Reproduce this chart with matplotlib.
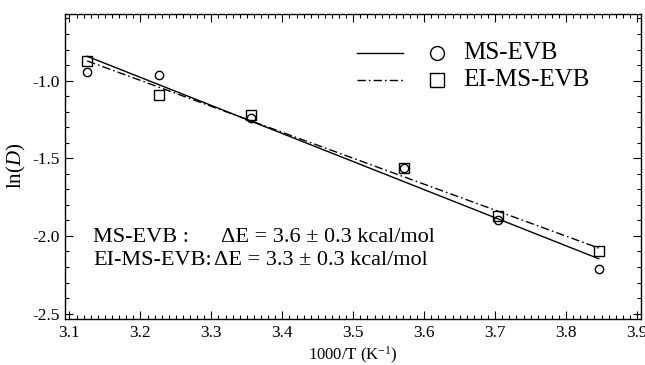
import numpy as np
import matplotlib
matplotlib.use("Agg")
import matplotlib.pyplot as plt
from matplotlib.ticker import MultipleLocator

plt.rcParams["font.family"] = ["Liberation Serif", "DejaVu Serif"]
plt.rcParams["mathtext.fontset"] = "custom"
plt.rcParams["mathtext.rm"] = "Liberation Serif"
plt.rcParams["mathtext.it"] = "Liberation Serif:italic"
plt.rcParams["axes.unicode_minus"] = False

# Inverse temperature, 1000/T (K^-1)
inv_T = [3.125, 3.226, 3.356, 3.571, 3.704, 3.846]
# ln(D) for the two models
ln_D_msevb = [-0.942, -0.965, -1.240, -1.565, -1.896, -2.210]
ln_D_eimsevb = [-0.873, -1.092, -1.220, -1.563, -1.870, -2.095]

series_names = ["MS-EVB", "EI-MS-EVB"]
energy_labels = ["MS-EVB :", "EI-MS-EVB:"]
energy_texts = ["\u0394E = 3.6 \u00b1 0.3 kcal/mol", "\u0394E = 3.3 \u00b1 0.3 kcal/mol"]

x_ticks = [3.1, 3.2, 3.3, 3.4, 3.5, 3.6, 3.7, 3.8, 3.9]
y_ticks = [-2.5, -2.0, -1.5, -1.0]

fig = plt.figure(figsize=(6.45, 3.65), dpi=100)
ax = fig.add_axes([0.1008, 0.126, 0.893, 0.837])

x = np.array(inv_T)
xfit = np.array([x.min(), x.max()])

styles = [dict(ls="-", marker="o", ms=6.0), dict(ls=(0, (6, 2.2, 1.2, 2.2)), marker="s", ms=6.5)]
for yvals, st in zip([ln_D_msevb, ln_D_eimsevb], styles):
    y = np.array(yvals)
    slope, intercept = np.polyfit(x, y, 1)
    ax.plot(xfit, slope * xfit + intercept, color="black", lw=1.0, ls=st["ls"])
    ax.plot(x, y, ls="none", marker=st["marker"], ms=st["ms"],
            mfc="none", mec="black", mew=1.0)

ax.set_xlim(3.0937, 3.9056)
ax.set_ylim(-2.535, -0.568)
ax.set_xticks(x_ticks)
ax.set_xticklabels([f"{v:.1f}" for v in x_ticks])
ax.set_yticks(y_ticks)
ax.set_yticklabels([f"{v:.1f}" for v in y_ticks])
ax.xaxis.set_minor_locator(MultipleLocator(0.01))
ax.yaxis.set_minor_locator(MultipleLocator(0.1))
ax.tick_params(which="both", direction="in", top=True, right=True, width=0.8,
               labelsize=12.5)
ax.tick_params(which="major", length=6, pad=4)
ax.tick_params(which="minor", length=3)
for sp in ax.spines.values():
    sp.set_linewidth(1.0)

ax.set_xlabel("1000/T (K$^{-1}$)", fontsize=12, labelpad=3)
ax.set_ylabel("ln($D$)", fontsize=15, labelpad=3)

# Legend: line sample, marker sample, name
rows_y = [0.871, 0.782]
for yy, name, st in zip(rows_y, series_names, styles):
    ax.plot([0.507, 0.587], [yy, yy], transform=ax.transAxes, color="black",
            lw=1.0, ls=st["ls"])
    ax.plot([0.646], [yy], transform=ax.transAxes, ls="none", marker=st["marker"],
            ms=10, mfc="none", mec="black", mew=1.0)
    ax.text(0.691, yy, name, transform=ax.transAxes, fontsize=18,
            va="center", ha="left")

# Activation energies
ann_y = [0.268, 0.193]
de_x = [0.271, 0.258]
for yy, lab, txt, xx in zip(ann_y, energy_labels, energy_texts, de_x):
    ax.text(0.049, yy, lab, transform=ax.transAxes, fontsize=16,
            va="center", ha="left")
    ax.text(xx, yy, txt, transform=ax.transAxes, fontsize=16,
            va="center", ha="left")

fig.savefig("out.png", dpi=100)
